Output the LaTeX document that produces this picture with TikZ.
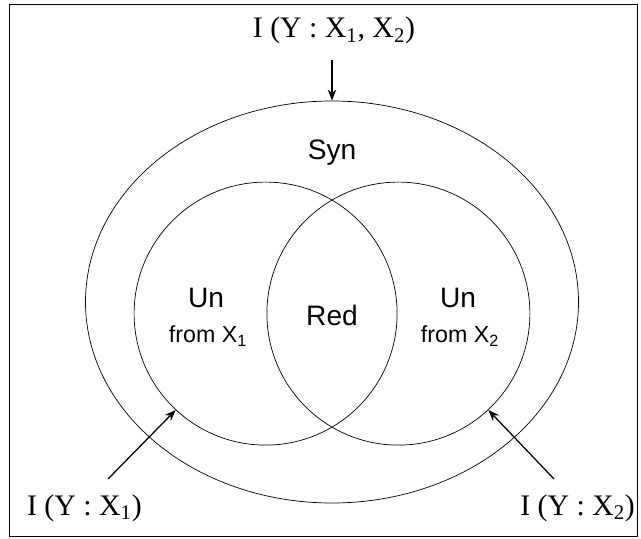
\documentclass[tikz,border=0pt]{standalone}
\usepackage{fontspec}
\setmainfont{Liberation Serif}
\newfontfamily\helv{Liberation Sans}
\usetikzlibrary{arrows.meta,shapes.geometric}

\begin{document}
\begin{tikzpicture}[>={Stealth[length=2.8mm,width=2.1mm]},
  region/.style={draw,line width=0.5pt,inner sep=0pt},
  info/.style={font=\fontsize{21.2}{25}\selectfont},
  part/.style={font=\helv\fontsize{20}{24}\selectfont},
  partsub/.style={font=\helv\fontsize{16.5}{20}\selectfont},
  pointer/.style={->,line width=0.9pt}]
\useasboundingbox (0,0) rectangle (16.025,13.45);
\draw[line width=0.7pt] (0.225,0.05) rectangle (15.925,13.35);
\node[region,ellipse,minimum width=12.325cm,minimum height=10.05cm] (outer) at (8.3,5.9) {};
\node[region,circle,minimum size=6.575cm] (c1) at (6.64,5.61) {};
\node[region,circle,minimum size=6.575cm] (c2) at (9.96,5.61) {};
\node[info] (iall) at (8.35,12.68) {I (Y : X\textsubscript{1}, X\textsubscript{2})};
\node[info] (ione) at (2.11,0.75) {I (Y : X\textsubscript{1})};
\node[info] (itwo) at (14.44,0.75) {I (Y : X\textsubscript{2})};
\node[part] (syn) at (8.3,9.625) {Syn};
\node[part] (red) at (8.3,5.575) {Red};
\node[part] (unone) at (5.15,6.01) {Un};
\node[partsub] (fromone) at (5.2,5.05) {from X\textsubscript{1}};
\node[part] (untwo) at (11.45,6.01) {Un};
\node[partsub] (fromtwo) at (11.5,5.05) {from X\textsubscript{2}};
\coordinate (top) at (8.3,11.95);
\coordinate (sone) at (2.7,1.475);
\coordinate (stwo) at (13.85,1.475);
\draw[pointer] (top) -- (outer.north);
\draw[pointer] (sone) -- (c1.227);
\draw[pointer] (stwo) -- (c2.313);
\end{tikzpicture}
\end{document}
